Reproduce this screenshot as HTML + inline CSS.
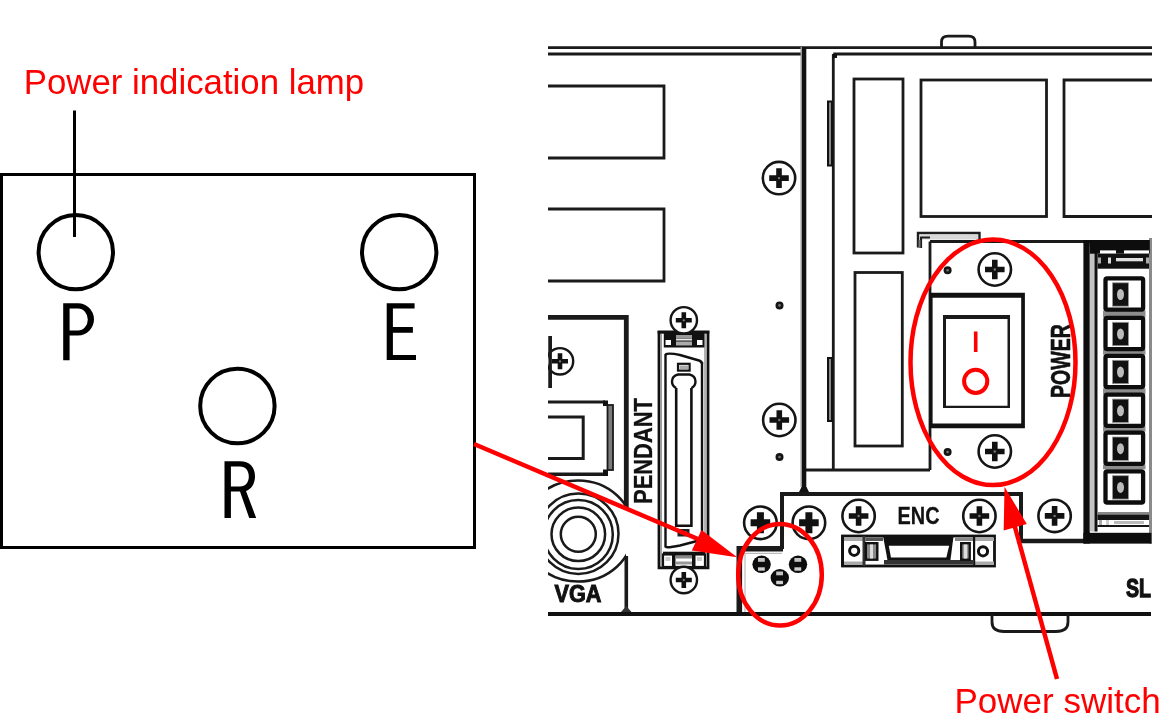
<!DOCTYPE html>
<html><head><meta charset="utf-8">
<style>
html,body{margin:0;padding:0;background:#fff;width:1168px;height:726px;overflow:hidden}
svg{position:absolute;left:0;top:0;will-change:transform}
.t{font-family:"Liberation Sans",sans-serif;fill:#ff0000}
.d{fill:none;stroke:#1a1a1a;stroke-width:2.8}
.k{fill:none;stroke:#000;}
.r{fill:none;stroke:#ff0000;stroke-width:4.5}
</style></head><body>
<svg width="1168" height="726" viewBox="0 0 1168 726">
<!-- LEFT PART -->
<text class="t" x="23.7" y="93.9" font-size="34.8">Power indication lamp</text>
<line x1="74.5" y1="110.5" x2="74.5" y2="237" stroke="#000" stroke-width="3"/>
<rect x="1.5" y="174.5" width="473" height="373" fill="none" stroke="#000" stroke-width="3"/>
<circle cx="75.8" cy="252.1" r="37.2" class="k" stroke-width="4"/>
<circle cx="399.2" cy="252.1" r="37.2" class="k" stroke-width="4"/>
<circle cx="237.4" cy="406" r="37.2" class="k" stroke-width="4"/>
<path fill-rule="evenodd" d="M63.2,303.2H78A16,16.15 0 0 1 78,335.5H69.6V360.3H63.2Z M69.6,308.5H78A9.8,11.05 0 0 1 78,330.6H69.6Z"/>
<path d="M386.7,303.2H414.6V308.5H392.9V327H412.9V332.8H392.9V354.9H416V360H386.7Z"/>
<path fill-rule="evenodd" d="M224.5,461.2H240C249.5,461.2 255,467 255,476.3C255,484 251,489.5 246,491L256.2,518H249.2L240,491.5H230.9V518H224.5Z M230.9,466.5H240C245.5,466.5 248.8,470.5 248.8,476.5C248.8,482.5 245.5,486.5 240,486.5H230.9Z"/>

<!-- RIGHT DRAWING -->
<g class="d">
  <!-- top frame -->
  <line x1="548" y1="47.6" x2="1152" y2="47.6"/>
  <line x1="548" y1="54" x2="804" y2="54"/>
  <path d="M941.5,47V42Q941.5,36.2 948,36.2H968.5Q975,36.2 975,42V47"/>
  <!-- left panel rects -->
  <path d="M548,86H664V158H548"/>
  <path d="M548,209H664V281H548"/>
  <!-- inner panel -->
  <line x1="833.3" y1="54" x2="1152" y2="54"/>
  <line x1="833.3" y1="54" x2="833.3" y2="470"/>
  <rect x="854" y="79" width="49" height="174"/>
  <rect x="921" y="80" width="125.5" height="136.5"/>
  <path d="M1152,80H1064V216.5H1152"/>
  <rect x="855" y="272.5" width="47.3" height="173.5"/>
  <line x1="804" y1="470" x2="930" y2="470"/>
  <line x1="930" y1="241.5" x2="930" y2="470"/>
  <line x1="930" y1="241.5" x2="1150" y2="241.5"/>
  <line x1="1017" y1="541" x2="1151" y2="541" stroke-width="4.3"/>
</g>
<!-- thick vertical divider -->
<line x1="804" y1="47" x2="804" y2="492" stroke="#111" stroke-width="4.6"/><rect x="800.5" y="47" width="1.5" height="440" fill="#999"/><path d="M799,492L801.5,487H806.5L809,492Z" fill="#111"/>
<!-- tabs -->
<rect x="833" y="54" width="4" height="4" fill="#111"/>
<rect x="828" y="101.5" width="4" height="64" fill="#8a8a8a" stroke="#111" stroke-width="2"/>
<rect x="828" y="358" width="4" height="63" fill="#8a8a8a" stroke="#111" stroke-width="2"/>
<path d="M918,247.5V233H979.5V241" fill="none" stroke="#1e1e1e" stroke-width="2.4"/><rect x="920.5" y="235" width="57.5" height="4.5" fill="#d8d8d8"/><path d="M921,248V237.5H930" fill="none" stroke="#1e1e1e" stroke-width="2.2"/><rect x="918.5" y="240" width="2" height="8" fill="#777"/>

<defs>
  <g id="sc"><circle r="16.2" fill="#fff" stroke="#151515" stroke-width="2.6"/><path d="M-9.8,0H9.8M0,-9.8V9.8" stroke="#111" stroke-width="5.6"/><circle r="1.2" fill="#777"/></g>
  <g id="sc2"><circle r="16.3" fill="#fff" stroke="#151515" stroke-width="2.6"/><path d="M-9.8,0H9.8M0,-10.5V10.5" stroke="#111" stroke-width="7"/></g>
  <g id="scs"><circle r="13.2" fill="#fff" stroke="#151515" stroke-width="2.4"/><path d="M-8,0H8M0,-8V8" stroke="#111" stroke-width="4.6"/><circle r="1.1" fill="#888"/></g>
  <g id="dot"><circle r="4" fill="#151515"/><circle r="1.3" fill="#777"/></g>
  <g id="mc"><ellipse rx="9.2" ry="8.7" fill="#0d0d0d"/><rect x="-3.6" y="-6.3" width="6.8" height="3.8" fill="#c4c4c4"/><rect x="-3.6" y="3" width="6.8" height="3.4" fill="#d0d0d0"/></g>
  <g id="cell"><rect x="-18.8" y="-15.6" width="37.6" height="31.2" rx="1.6" fill="#fff" stroke="#0d0d0d" stroke-width="4.3"/><rect x="-11.8" y="-11.2" width="16" height="23.4" fill="#111" stroke="#999" stroke-width="0.8"/><ellipse cx="-3.8" cy="0.5" rx="3.5" ry="5.5" fill="#bbb"/></g>
</defs>

<!-- VGA area -->
<g class="d">
  <path d="M548,317.3H626.3V510" stroke-width="4.8"/>
  <path d="M626.3,556V612" stroke-width="3.6"/>
  <path d="M550.2,336V388" stroke-width="3.4"/>
  <path d="M548,402H605" stroke-width="3"/>
  <path d="M548,474.3H605" stroke-width="3.5"/>
  <path d="M548,417H583.2V458.5H548" stroke-width="3"/>
</g>
<rect x="603" y="400.5" width="5" height="5.5" fill="#111"/><rect x="603" y="469.5" width="5" height="6.5" fill="#111"/>
<rect x="607.5" y="405" width="5.5" height="65" fill="#7a7a7a" stroke="#1a1a1a" stroke-width="1.8"/>
<svg x="548" y="300" width="78" height="320" viewBox="548 300 78 320" overflow="hidden">
  <use href="#scs" x="560" y="361.3"/>
  <g fill="none" stroke="#1a1a1a" stroke-width="2.5">
    <circle cx="578.3" cy="534.3" r="17.5"/>
    <circle cx="578.3" cy="534.3" r="26.8"/>
    <circle cx="578.3" cy="534.5" r="34.5"/>
    <circle cx="578.3" cy="533.8" r="40.2"/>
    <ellipse cx="578" cy="531" rx="55" ry="50.5"/>
  </g>
</svg>
<path d="M550.2,336V388" stroke="#1a1a1a" stroke-width="3.4"/>
<path d="M621,612L626.3,606L631.5,612Z" fill="#333"/>
<text font-family="Liberation Sans" font-weight="bold" font-size="23.5" fill="#111" stroke="#111" stroke-width="1" x="554.5" y="602.3" textLength="47" lengthAdjust="spacingAndGlyphs">VGA</text>

<!-- PENDANT -->
<text font-family="Liberation Sans" font-weight="bold" font-size="26" fill="#111" stroke="#111" stroke-width="0.3" transform="translate(651.6,504) rotate(-90)" textLength="106" lengthAdjust="spacingAndGlyphs">PENDANT</text>
<g fill="none" stroke="#111">
  <path d="M659,332V567.8H708V332Z" stroke-width="2.8"/>
  <path d="M661.2,334V566M705,334V566" stroke="#999" stroke-width="1.5"/>
  <path d="M665.5,354V547.5M702,362V544" stroke-width="2.4"/>
  <path d="M665.5,354.5Q668,352.5 680,355L699,360.5Q702,361.5 702,364" stroke-width="2.4"/>
  <path d="M665.5,547Q668,548 680,545.5L699,540.5Q702,539.5 702,537" stroke-width="2.4"/>
  <path d="M676.2,388V525.8H691.4V388" stroke-width="2.6"/>
  <path d="M676.2,388Q672,386 672,381.5Q672,376 678,374.5H689.5Q695.5,376 695.5,381.5Q695.5,386 691.4,388" stroke-width="2.4"/>
  <rect x="678" y="363.8" width="11.6" height="6.8" stroke-width="2.2"/>
</g>
<rect x="679.5" y="365.5" width="8.5" height="3.5" fill="#aaa"/>
<rect x="677.5" y="529" width="12" height="7.5" fill="#222"/><rect x="680" y="531.5" width="7" height="2.5" fill="#999"/>
<!-- top bracket -->
<rect x="657.6" y="331" width="51.7" height="2.4" fill="#111"/>
<rect x="663.8" y="333" width="40.6" height="14.5" fill="#111"/>
<rect x="665.5" y="340" width="5.5" height="5" fill="#fff"/><rect x="697" y="340" width="5.5" height="5" fill="#fff"/>
<rect x="676" y="335" width="16" height="3" fill="#999"/><rect x="676" y="338.5" width="16" height="2" fill="#eee"/><rect x="676" y="341.5" width="16" height="4" fill="#aaa"/>
<!-- bottom bracket -->
<rect x="663" y="551.7" width="42" height="2.8" fill="#111"/>
<rect x="663" y="554.5" width="42" height="12.5" fill="#fff" stroke="#111" stroke-width="2.2"/>
<rect x="672" y="554.5" width="3.5" height="12.5" fill="#111"/><rect x="692" y="554.5" width="3.5" height="12.5" fill="#111"/>
<rect x="665.5" y="557" width="5" height="4" fill="#ccc"/><rect x="697" y="557" width="5" height="4" fill="#ccc"/>
<rect x="676" y="556" width="16" height="2.5" fill="#888"/><rect x="676" y="561.5" width="16" height="3" fill="#999"/>
<use href="#scs" x="683.8" y="320.3"/>
<use href="#scs" x="683.8" y="580"/>

<!-- screws and dots -->
<use href="#sc" x="779" y="178.1"/>
<use href="#sc" x="779.3" y="420"/>
<use href="#dot" x="779.5" y="305.4"/>
<use href="#dot" x="779.5" y="457"/>
<use href="#sc" x="994.8" y="269.5"/>
<use href="#sc" x="994.8" y="451.5"/>
<use href="#dot" x="947.6" y="270.2"/>
<use href="#dot" x="947.6" y="452"/>

<!-- switch -->
<path fill-rule="evenodd" fill="#111" d="M929.8,292.8H1024.9V428.3H929.8Z M932.6,297.7H1021.2V423.4H932.6Z"/>
<path fill-rule="evenodd" fill="#1a1a1a" d="M943,315H1010V408H943Z M946,319H1007.5V405.8H946Z"/>
<line x1="975.7" y1="331.5" x2="975.7" y2="352" stroke="#f00" stroke-width="3.6"/>
<circle cx="975.7" cy="381.3" r="11.6" fill="none" stroke="#f00" stroke-width="4"/>
<text font-family="Liberation Sans" font-weight="bold" font-size="28" fill="#111" stroke="#111" stroke-width="0.6" transform="translate(1069.5,398) rotate(-90)" textLength="74" lengthAdjust="spacingAndGlyphs">POWER</text>

<!-- terminal block -->
<rect x="1083.4" y="240" width="6.4" height="303.5" fill="#0d0d0d"/>
<rect x="1089.8" y="246.5" width="4.7" height="285" fill="#c4c4c4"/>
<rect x="1094.5" y="246.5" width="3" height="285" fill="#111"/>
<rect x="1149" y="238" width="3" height="306" fill="#8a8a8a"/>
<rect x="1089.8" y="240" width="60" height="13.7" fill="#0d0d0d"/>
<rect x="1100" y="250.4" width="16" height="3.3" fill="#fff"/><rect x="1124" y="250.4" width="25" height="3.3" fill="#fff"/>
<rect x="1097.5" y="253.7" width="51.5" height="15" fill="#111"/>
<rect x="1098" y="257.5" width="3" height="6" fill="#aaa"/><rect x="1108" y="257.5" width="3" height="6" fill="#ddd"/>
<rect x="1116" y="258" width="27" height="3.3" fill="#e0e0e0"/><rect x="1146" y="257.5" width="3" height="6" fill="#aaa"/>
<g id="cells"><rect x="1103" y="310.6" width="42.5" height="6.9" fill="#8c8c8c"/><rect x="1103" y="349.4" width="42.5" height="5.3" fill="#8c8c8c"/><rect x="1103" y="388.3" width="42.5" height="6.1" fill="#8c8c8c"/><rect x="1103" y="426.2" width="42.5" height="5.5" fill="#8c8c8c"/><rect x="1103" y="464.6" width="42.5" height="4.7" fill="#8c8c8c"/>
<use href="#cell" x="1124.3" y="294"/>
<use href="#cell" x="1124.3" y="333.5"/>
<use href="#cell" x="1124.3" y="371.5"/>
<use href="#cell" x="1124.3" y="410.3"/>
<use href="#cell" x="1124.3" y="448.2"/>
<use href="#cell" x="1124.3" y="486.9"/>
</g>
<rect x="1097.5" y="512" width="51.5" height="2.5" fill="#888"/>
<rect x="1097.5" y="514.5" width="51.5" height="5.5" fill="#151515"/>
<rect x="1099" y="520" width="3" height="5" fill="#aaa"/><rect x="1106" y="520" width="3" height="5" fill="#ccc"/><rect x="1114" y="521" width="30" height="3" fill="#bbb"/>
<rect x="1097.5" y="525" width="51.5" height="2" fill="#151515"/>
<rect x="1099" y="527" width="20" height="3.5" fill="#fff"/><rect x="1124" y="527" width="25" height="3.5" fill="#fff"/>
<rect x="1083.4" y="532.8" width="68" height="10.7" fill="#0d0d0d"/>

<!-- ENC panel -->
<g class="d">
  <path d="M782,549V494H1021V541" stroke-width="4"/>
  <path d="M739.3,614V548.7H783" stroke-width="5.6"/>
  <path d="M745,612V553.3H782" stroke="#bbb" stroke-width="1.2"/>
</g>
<use href="#sc2" x="760.4" y="522.8"/>
<use href="#sc2" x="808.9" y="522.8"/>
<use href="#sc" x="858.6" y="516"/>
<use href="#sc" x="979.4" y="516"/>
<use href="#sc" x="1054.6" y="515.9"/>
<text font-family="Liberation Sans" font-weight="bold" font-size="24.5" fill="#111" stroke="#111" stroke-width="0.3" x="897.5" y="524" textLength="42" lengthAdjust="spacingAndGlyphs">ENC</text>
<rect x="842.5" y="536" width="152" height="30" fill="#fff" stroke="#111" stroke-width="2.8"/>
<rect x="841.2" y="535" width="2.8" height="32" fill="#111"/>
<rect x="844" y="537.5" width="20" height="3.5" fill="#aaa"/><rect x="844" y="561.5" width="20" height="3.5" fill="#aaa"/>
<rect x="975" y="537.5" width="19" height="3.5" fill="#aaa"/><rect x="975" y="561.5" width="19" height="3.5" fill="#aaa"/>
<rect x="862.5" y="536" width="3" height="30" fill="#333"/><rect x="973" y="536" width="2.2" height="30" fill="#111"/>
<rect x="865.5" y="537.5" width="17.5" height="3.5" fill="#555"/><rect x="955" y="537.5" width="18" height="3.5" fill="#888"/>
<path d="M883,535.7H953.6L950,563.5H888.1Z" fill="#111"/>
<path d="M888.8,545.7H949.2L946.3,557.5H891Z" fill="#fff"/>
<rect x="884" y="560" width="90" height="4.5" fill="#333"/>
<circle cx="854.2" cy="550.8" r="4.6" fill="#fff" stroke="#111" stroke-width="3"/>
<rect x="865.8" y="543.2" width="11.5" height="16.5" fill="#888" stroke="#111" stroke-width="2.4"/><rect x="870" y="544.5" width="3" height="14" fill="#ddd"/>
<circle cx="983" cy="551.3" r="4.6" fill="#fff" stroke="#111" stroke-width="3"/>
<rect x="961.2" y="543.2" width="8.5" height="16.5" fill="#999" stroke="#111" stroke-width="2.4"/><rect x="964" y="544.5" width="3" height="14" fill="#ddd"/>
<use href="#mc" x="761.6" y="564.3"/>
<use href="#mc" x="798" y="564.3"/>
<use href="#mc" x="779.8" y="577.8"/>
<text font-family="Liberation Sans" font-weight="bold" font-size="25.5" fill="#111" stroke="#111" stroke-width="1.3" x="1126" y="597" textLength="25" lengthAdjust="spacingAndGlyphs">SL</text>

<!-- bottom line -->
<line x1="548" y1="614" x2="1151" y2="614" stroke="#111" stroke-width="4"/>
<path d="M992,614V622Q992,631.5 1004,631.5H1056Q1068,631.5 1068,622V614" class="d"/>

<!-- RED overlays -->
<g class="r">
  <ellipse cx="993" cy="362.3" rx="82.5" ry="122.8"/>
  <ellipse cx="780" cy="574.7" rx="41.8" ry="50.8"/>
  <line x1="474" y1="444" x2="705" y2="542"/>
  <line x1="1013" y1="520" x2="1057" y2="679"/>
</g>
<path d="M737.2,557.3L701.5,529.9L691.8,550.5Z" fill="#ff0000"/>
<path d="M1004.5,486.8L1003.7,530.6L1026.8,524Z" fill="#ff0000"/>
<text class="t" x="954.5" y="713.2" font-size="35">Power switch</text>
</svg>
</body></html>
